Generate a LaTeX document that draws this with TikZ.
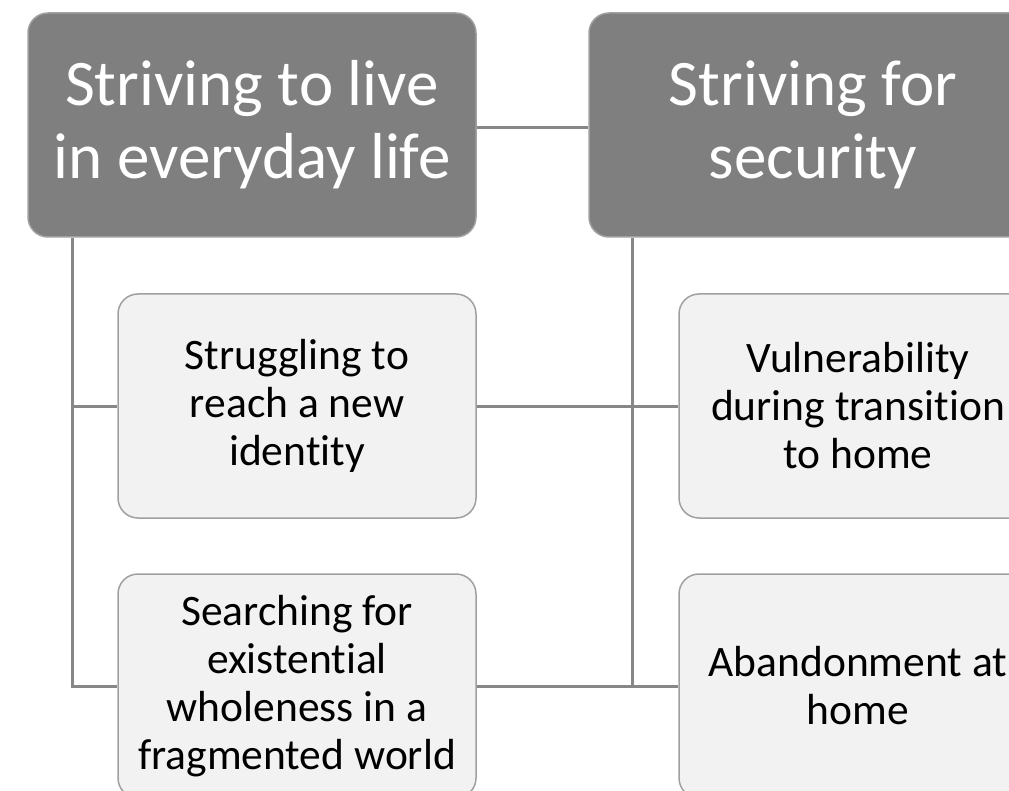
\documentclass[tikz,border=0pt]{standalone}
\usepackage{fontspec}
\setmainfont[Ligatures={NoCommon}]{Carlito}
\usepackage{tikz}
\usepackage{xcolor}
\definecolor{ColTheme}{RGB}{127,127,127}
\definecolor{ColSub}{RGB}{242,242,242}
\definecolor{ColEdge}{RGB}{160,160,160}
\definecolor{ColLink}{RGB}{135,135,135}
\tikzstyle{ThemeBox}=[rectangle,rounded corners=20pt,draw=ColEdge,fill=ColTheme,line width=1.5pt,
minimum width=448pt,minimum height=224pt,text=white,align=center,font=\fontsize{65}{73}\selectfont]
\tikzstyle{SubBox}=[rectangle,rounded corners=20pt,draw=ColEdge,fill=ColSub,line width=1.5pt,
minimum width=358pt,minimum height=224pt,text=black,align=center,font=\fontsize{43.5}{48}\selectfont]
\tikzstyle{LinkLine}=[ColLink,line width=3pt]

\begin{document}
\begin{tikzpicture}[x=1pt,y=-1pt]
        \useasboundingbox(0,0)rectangle(1009,791);
        \clip(0,0)rectangle(1009,791);
        % themes
        \node[ThemeBox](live)at(252,125){Striving to live\\in everyday life};
        \node[ThemeBox](security)at(813,125){Striving for\\security};
        % sub-themes
        \node[SubBox](identity)at(297,406){Struggling to\\reach a new\\identity};
        \node[SubBox](wholeness)at(297,686){Searching for\\existential\\wholeness in a\\fragmented world};
        \node[SubBox](transition)at(858,406){Vulnerability\\during transition\\to home};
        \node[SubBox](abandon)at(858,686){Abandonment at\\home};
        % links
        \draw[LinkLine]([yshift=-3pt]live.east)--([yshift=-3pt]security.west);
        \draw[LinkLine]([xshift=45pt]live.south west)|-(wholeness.west);
        \draw[LinkLine]([xshift=45pt]live.south west|-identity.west)--(identity.west);
        \draw[LinkLine]([xshift=44pt]security.south west)|-(abandon.west);
        \draw[LinkLine](identity.east)--(transition.west);
        \draw[LinkLine](wholeness.east)--(abandon.west);
    \end{tikzpicture}
\end{document}
